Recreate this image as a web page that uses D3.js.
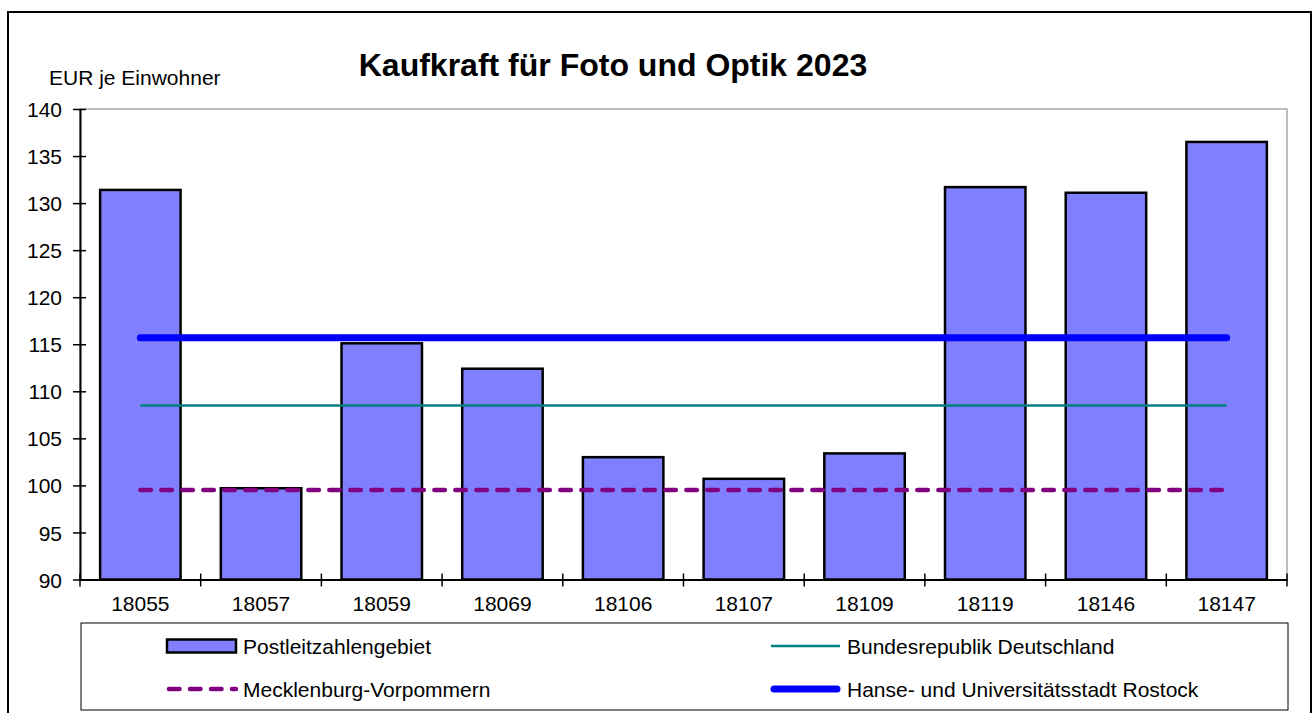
<!DOCTYPE html>
<html>
<head>
<meta charset="utf-8">
<script src="https://cdn.jsdelivr.net/npm/d3@7"></script>
<style>
  body { margin: 0; background: #fff; }
  svg text { font-family: Arial, "Liberation Sans", sans-serif; fill: #000; }
</style>
</head>
<body>
<div id="chart"></div>
<script>
// data
const categories = ["18055", "18057", "18059", "18069", "18106", "18107", "18109", "18119", "18146", "18147"];
const plzValues = [131.4, 99.7, 115.1, 112.4, 103.0, 100.7, 103.4, 131.7, 131.1, 136.5];
const brdValue = 108.5;
const mvValue = 99.5;
const rostockValue = 115.7;
const yTicks = [90, 95, 100, 105, 110, 115, 120, 125, 130, 135, 140];
const legendLabels = ["Postleitzahlengebiet", "Bundesrepublik Deutschland", "Mecklenburg-Vorpommern", "Hanse- und Universitätsstadt Rostock"];

// Base variables
const w = 1313;
const h = 713;
const plotLeft = 80, plotRight = 1287, plotTop = 109, plotBottom = 579.5;

const svg = d3.select("#chart")
  .append("svg")
  .attr("width", w)
  .attr("height", h);

// outer frame
svg.append("rect")
  .attr("x", 8).attr("y", 12)
  .attr("width", 1303).attr("height", 720)
  .attr("fill", "none").attr("stroke", "#000").attr("stroke-width", 2);

// Scales
const xScale = d3.scaleBand().domain(categories).range([plotLeft, plotRight]).padding(0);
const yScale = d3.scaleLinear().domain([90, 140]).range([plotBottom, plotTop]);

// plot area border (grey)
svg.append("rect")
  .attr("x", plotLeft).attr("y", plotTop)
  .attr("width", plotRight - plotLeft).attr("height", plotBottom - plotTop)
  .attr("fill", "none").attr("stroke", "#808080").attr("stroke-width", 1);

// bars
const barW = xScale.bandwidth() * 2 / 3;
svg.selectAll("rect.bar")
  .data(plzValues)
  .enter()
  .append("rect")
  .attr("class", "bar")
  .attr("x", (d, i) => xScale(categories[i]) + (xScale.bandwidth() - barW) / 2)
  .attr("y", d => yScale(d))
  .attr("width", barW)
  .attr("height", d => yScale(90) - yScale(d))
  .attr("fill", "#8080FF")
  .attr("stroke", "#000")
  .attr("stroke-width", 2.5);

// reference lines
const x0 = xScale(categories[0]) + xScale.bandwidth() / 2;
const x1 = xScale(categories[categories.length - 1]) + xScale.bandwidth() / 2;

svg.append("line")
  .attr("x1", x0).attr("x2", x1)
  .attr("y1", yScale(brdValue)).attr("y2", yScale(brdValue))
  .attr("stroke", "#008080").attr("stroke-width", 2.5);

svg.append("line")
  .attr("x1", x0).attr("x2", x1)
  .attr("y1", yScale(mvValue)).attr("y2", yScale(mvValue))
  .attr("stroke", "#800080").attr("stroke-width", 4.5)
  .attr("stroke-linecap", "round")
  .attr("stroke-dasharray", "10.5 10.5");

svg.append("line")
  .attr("x1", x0).attr("x2", x1)
  .attr("y1", yScale(rostockValue)).attr("y2", yScale(rostockValue))
  .attr("stroke", "#0000FF").attr("stroke-width", 7)
  .attr("stroke-linecap", "round");

// y-axis
const yAxis = d3.axisLeft(yScale).tickValues(yTicks).tickFormat(d3.format("d")).tickSize(7).tickSizeOuter(0);
const yG = svg.append("g")
  .attr("transform", `translate(${plotLeft}, 0)`)
  .call(yAxis);
yG.select(".domain").attr("stroke", "#000").attr("stroke-width", 2);
yG.selectAll(".tick line").attr("x1", 6).attr("x2", -7).attr("stroke", "#000").attr("stroke-width", 1.5);
yG.selectAll(".tick text").attr("x", -18).attr("dy", "0.36em")
  .style("font-size", "21px").style("font-family", "Arial, 'Liberation Sans', sans-serif");

// x-axis
const xAxis = d3.axisBottom(xScale).tickSize(0).tickSizeOuter(0);
const xG = svg.append("g")
  .attr("transform", `translate(0, ${plotBottom})`)
  .call(xAxis);
xG.select(".domain").attr("stroke", "#000").attr("stroke-width", 2);
xG.selectAll(".tick text").attr("y", 17).attr("dy", "0.71em")
  .style("font-size", "21px").style("font-family", "Arial, 'Liberation Sans', sans-serif");

// boundary ticks on x-axis
const bounds = categories.map(c => xScale(c)).concat([xScale.range()[1]]);
svg.selectAll("line.xtick")
  .data(bounds)
  .enter()
  .append("line")
  .attr("class", "xtick")
  .attr("x1", d => d).attr("x2", d => d)
  .attr("y1", plotBottom - 6).attr("y2", plotBottom + 7)
  .attr("stroke", "#000").attr("stroke-width", 1.5);

// titles
svg.append("text")
  .attr("x", 613).attr("y", 75.5)
  .attr("text-anchor", "middle")
  .style("font-size", "32px").style("font-weight", "bold")
  .text("Kaufkraft für Foto und Optik 2023");

svg.append("text")
  .attr("x", 49).attr("y", 85)
  .style("font-size", "21px")
  .text("EUR je Einwohner");

// legend
const lg = svg.append("g");
lg.append("rect")
  .attr("x", 81).attr("y", 623)
  .attr("width", 1207).attr("height", 87)
  .attr("fill", "#fff").attr("stroke", "#000").attr("stroke-width", 1);

const row1 = 646, row2 = 689;
const lx = 167, rx = 771, symW = 69;

lg.append("rect")
  .attr("x", lx).attr("y", row1 - 6.5)
  .attr("width", symW).attr("height", 13)
  .attr("fill", "#8080FF").attr("stroke", "#000").attr("stroke-width", 2.5);

lg.append("line")
  .attr("x1", lx + 2).attr("x2", lx + symW)
  .attr("y1", row2).attr("y2", row2)
  .attr("stroke", "#800080").attr("stroke-width", 4.5)
  .attr("stroke-linecap", "round").attr("stroke-dasharray", "10.5 10.5");

lg.append("line")
  .attr("x1", rx).attr("x2", rx + symW)
  .attr("y1", row1).attr("y2", row1)
  .attr("stroke", "#008080").attr("stroke-width", 2.5);

lg.append("line")
  .attr("x1", rx + 3).attr("x2", rx + symW - 3)
  .attr("y1", row2).attr("y2", row2)
  .attr("stroke", "#0000FF").attr("stroke-width", 7)
  .attr("stroke-linecap", "round");

const legPos = [[lx + symW + 7, row1], [rx + symW + 7, row1], [lx + symW + 7, row2], [rx + symW + 7, row2]];
lg.selectAll("text.leg")
  .data(legendLabels)
  .enter()
  .append("text")
  .attr("class", "leg")
  .attr("x", (d, i) => legPos[i][0])
  .attr("y", (d, i) => legPos[i][1])
  .attr("dy", "0.36em")
  .style("font-size", "21px")
  .text(d => d);
</script>
</body>
</html>
